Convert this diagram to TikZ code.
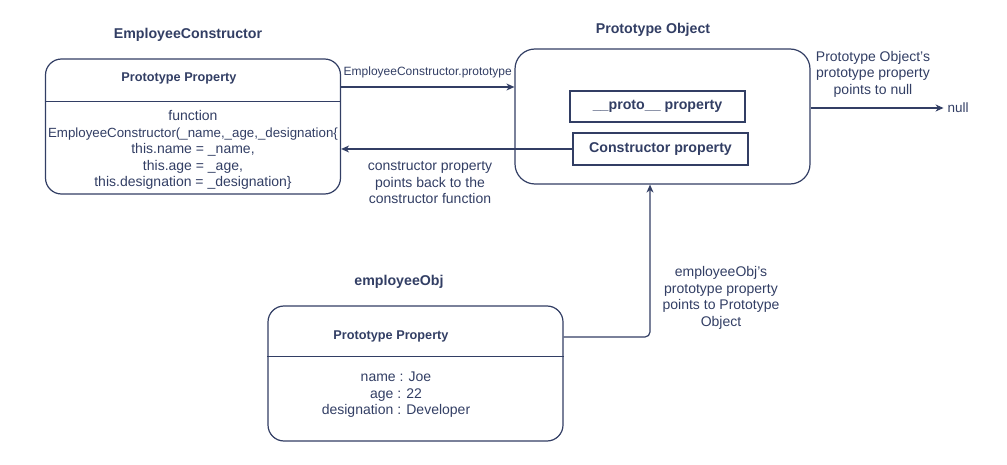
\documentclass[tikz,border=0pt]{standalone}
\usepackage{fontspec}
\setmainfont{Liberation Sans}
\usetikzlibrary{positioning}
\usetikzlibrary{calc}
\usetikzlibrary{arrows.meta}
\definecolor{ink}{RGB}{50,62,100}

\begin{document}
\begin{tikzpicture}[x=1pt, y=-1pt, >={Stealth[length=8pt,width=7pt,inset=2.5pt]}, line width=1.2pt, color=ink,
    objbox/.style={draw, rounded corners=16pt, minimum width=295pt, minimum height=135pt},
    propbox/.style={draw, minimum width=175pt, minimum height=31pt, font=\bfseries\fontsize{14.2}{16}\selectfont},
    title/.style={font=\bfseries\fontsize{14.2}{17}\selectfont},
    header/.style={font=\bfseries\fontsize{12.7}{15}\selectfont},
    body/.style={align=center, font=\fontsize{14}{16.5}\selectfont},
    note/.style={align=center, font=\fontsize{14}{16.5}\selectfont}]
    \useasboundingbox (0,0) rectangle (1007,465);

    % constructor function
    \node [title] (ctortitle) at (188,35) {EmployeeConstructor};
    \node [objbox] (ctor) at (193,126.5) {};
    \draw ($(ctor.north west)+(0,43)$) -- ($(ctor.north east)+(0,43)$);
    \node [header] (ctorhead) at (179,78) {Prototype Property};
    \node [body] (ctorbody) at (193,150) {function\\{\fontsize{13.3}{16.5}\selectfont EmployeeConstructor(\_name,\_age,\_designation\{}\\this.name = \_name,\\this.age = \_age,\\this.designation = \_designation\}};

    % prototype object
    \node [title] (prototitle) at (653,30) {Prototype Object};
    \node [objbox, rounded corners=20pt] (proto) at (662.5,116.5) {};
    \node [propbox] (protoprop) at (657.5,106.5) {\_\_proto\_\_ property};
    \node [propbox, minimum height=32pt] (cprop) at (660.5,149) {Constructor property};
    \node [font=\fontsize{13.5}{16}\selectfont] (null) at (958,108) {null};

    % instance
    \node [title] (emptitle) at (399,282) {employeeObj};
    \node [objbox] (emp) at (415.5,373.5) {};
    \draw ($(emp.north west)+(0,51)$) -- ($(emp.north east)+(0,51)$);
    \node [header] (emphead) at (391,336) {Prototype Property};
    \node [body] (empbody) at (396,395) {name : Joe\\age : 22\\designation : Developer};

    % links
    \draw [->] ([yshift=39.5pt]ctor.east) -- node[above=5pt, font=\fontsize{12}{14}\selectfont]{EmployeeConstructor.prototype} ([yshift=39.5pt]ctor.east -| proto.west);
    \draw [->] (cprop.west) -- (cprop.west -| ctor.east);
    \node [note] (backnote) at (430,183) {constructor property\\points back to the\\constructor function};

    \draw [->] (proto.east |- null) -- (null.west);
    \node [note] (nullnote) at (873,74) {Prototype Object's\\prototype property\\points to null};

    \coordinate (turn) at (650,337);
    \draw [->, rounded corners=5pt] (emp.east |- turn) -- (turn) -- (turn |- proto.south);
    \node [note] (empnote) at (721,298) {employeeObj's\\prototype property\\points to Prototype\\Object};
\end{tikzpicture}
\end{document}
